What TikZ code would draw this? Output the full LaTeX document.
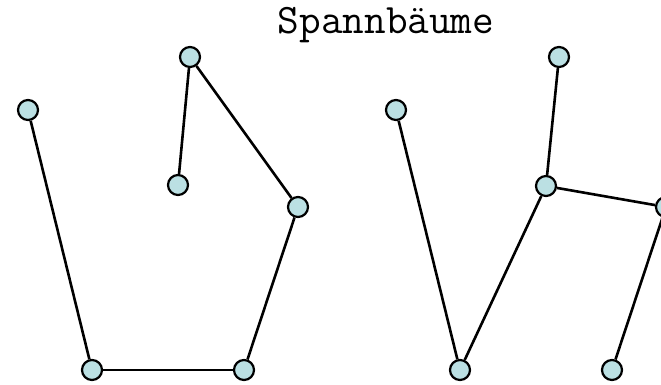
\documentclass[tikz,border=0pt]{standalone}
\definecolor{vertexfill}{RGB}{187,224,227}
\begin{document}
\begin{tikzpicture}[x=1pt,y=-1pt,line width=2.6pt,
	vertex/.style={circle, draw, fill = vertexfill, inner sep=0pt, minimum size=20pt, line width=2.2pt}]
	\useasboundingbox (0,0) rectangle (661,384);
	\node (title) at (386, 33)	[anchor=base, font=\ttfamily\fontsize{42}{42}\selectfont]	{Spannbäume};
	% first tree
	\node (A1) at ( 28, 110)	[vertex]	{};
	\node (B1) at (190,  57)	[vertex]	{};
	\node (C1) at (178, 185)	[vertex]	{};
	\node (D1) at (298, 207)	[vertex]	{};
	\node (E1) at ( 92, 370)	[vertex]	{};
	\node (F1) at (244, 370)	[vertex]	{};
	\draw (A1) -- (E1);
	\draw (E1) -- (F1);
	\draw (F1) -- (D1);
	\draw (D1) -- (B1);
	\draw (B1) -- (C1);
	% second tree, same vertices shifted right
	\node (A2) at (396, 110)	[vertex]	{};
	\node (B2) at (559,  57)	[vertex]	{};
	\node (C2) at (546, 186)	[vertex]	{};
	\node (D2) at (666, 207)	[vertex]	{};
	\node (E2) at (460, 370)	[vertex]	{};
	\node (F2) at (612, 370)	[vertex]	{};
	\draw (A2) -- (E2);
	\draw (E2) -- (C2);
	\draw (C2) -- (B2);
	\draw (C2) -- (D2);
	\draw (D2) -- (F2);
\end{tikzpicture}
\end{document}
